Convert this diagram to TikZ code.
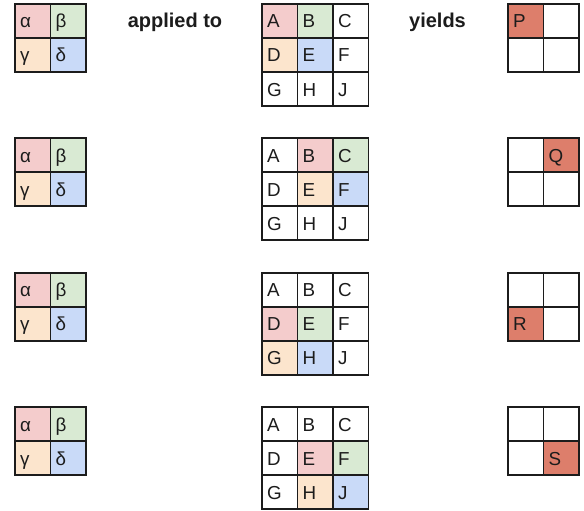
\documentclass[tikz,border=0pt]{standalone}
\usepackage{fontspec}
\setmainfont{Liberation Sans}
\usetikzlibrary{positioning}
\definecolor{cvInk}{HTML}{1C1C1C}
\definecolor{cvPink}{HTML}{F4CCCC}
\definecolor{cvGreen}{HTML}{D9EAD3}
\definecolor{cvOrange}{HTML}{FCE5CD}
\definecolor{cvBlue}{HTML}{C9DAF8}
\definecolor{cvRed}{HTML}{DD7E6B}

\begin{document}
\begin{tikzpicture}[x=1pt,y=-1pt,font=\fontsize{18.8}{20}\selectfont,
  cell/.style={draw=cvInk,line width=1.8pt,outer sep=0pt,anchor=north west,
    minimum width=35.5pt,minimum height=34pt,text width=25.5pt,
    text height=16pt,text depth=2pt,
    inner xsep=5pt,inner ysep=0pt,align=left,text=cvInk},
  tag/.style={font=\fontsize{20}{22}\selectfont\bfseries,text=cvInk}]
  \useasboundingbox (0,0) rectangle (584,511);

  % kernels, the same in every row
  \foreach \r/\y in {1/4,2/138.3,3/272.7,4/407}{
    \node[cell,fill=cvPink] (ka\r) at (15,\y) {α};
    \node[cell,fill=cvGreen] (kb\r) at (50.5,\y) {β};
    \node[cell,fill=cvOrange] (kc\r) at (15,\y+34) {γ};
    \node[cell,fill=cvBlue] (kd\r) at (50.5,\y+34) {δ};
  }

  \node[tag] (applied) at (175,22) {applied to};
  \node[tag] (yields) at (437.5,22) {yields};

  % input grids
  \foreach \n/\c/\rr/\f in {A/0/0/cvPink,B/1/0/cvGreen,C/2/0/white,
      D/0/1/cvOrange,E/1/1/cvBlue,F/2/1/white,G/0/2/white,H/1/2/white,J/2/2/white}
    \node[cell,fill=\f] (g1\n) at (262+35.5*\c,4+34*\rr) {\n};
  \foreach \n/\c/\rr/\f in {A/0/0/white,B/1/0/cvPink,C/2/0/cvGreen,
      D/0/1/white,E/1/1/cvOrange,F/2/1/cvBlue,G/0/2/white,H/1/2/white,J/2/2/white}
    \node[cell,fill=\f] (g2\n) at (262+35.5*\c,138.3+34*\rr) {\n};
  \foreach \n/\c/\rr/\f in {A/0/0/white,B/1/0/white,C/2/0/white,
      D/0/1/cvPink,E/1/1/cvGreen,F/2/1/white,G/0/2/cvOrange,H/1/2/cvBlue,J/2/2/white}
    \node[cell,fill=\f] (g3\n) at (262+35.5*\c,272.7+34*\rr) {\n};
  \foreach \n/\c/\rr/\f in {A/0/0/white,B/1/0/white,C/2/0/white,
      D/0/1/white,E/1/1/cvPink,F/2/1/cvGreen,G/0/2/white,H/1/2/cvOrange,J/2/2/cvBlue}
    \node[cell,fill=\f] (g4\n) at (262+35.5*\c,407+34*\rr) {\n};

  % outputs
  \node[cell,fill=cvRed] (o1a) at (508,4) {P};
  \node[cell] (o1b) at (543.5,4) {};
  \node[cell] (o1c) at (508,38) {};
  \node[cell] (o1d) at (543.5,38) {};

  \node[cell] (o2a) at (508,138.3) {};
  \node[cell,fill=cvRed] (o2b) at (543.5,138.3) {Q};
  \node[cell] (o2c) at (508,172.3) {};
  \node[cell] (o2d) at (543.5,172.3) {};

  \node[cell] (o3a) at (508,272.7) {};
  \node[cell] (o3b) at (543.5,272.7) {};
  \node[cell,fill=cvRed] (o3c) at (508,306.7) {R};
  \node[cell] (o3d) at (543.5,306.7) {};

  \node[cell] (o4a) at (508,407) {};
  \node[cell] (o4b) at (543.5,407) {};
  \node[cell] (o4c) at (508,441) {};
  \node[cell,fill=cvRed] (o4d) at (543.5,441) {S};
\end{tikzpicture}
\end{document}
